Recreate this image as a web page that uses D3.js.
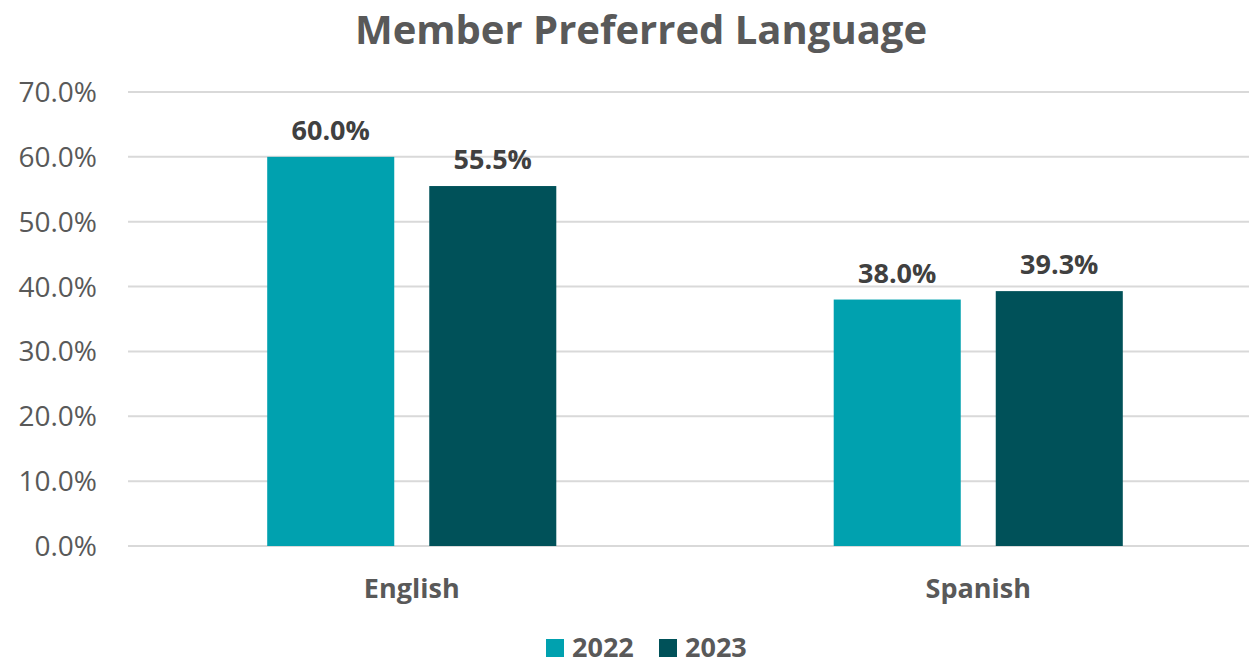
<!DOCTYPE html>
<html>
<head>
<meta charset="utf-8">
<script src="https://cdn.jsdelivr.net/npm/d3@7"></script>
<style>
  body { margin: 0; background: #fff; }
  svg { font-family: "Open Sans", sans-serif; }
</style>
</head>
<body>
<div id="chart"></div>
<script>
const width = 1249;
const height = 665;

// data
const categories = ["English", "Spanish"];
const years = ["2022", "2023"];
const values2022 = [60.0, 38.0];
const values2023 = [55.5, 39.3];
const yTicks = [0, 10, 20, 30, 40, 50, 60, 70];
const colors = ["#00A1AF", "#005159"];

const rows = categories.map((c, i) => ({ cat: c, vals: [values2022[i], values2023[i]] }));

const svg = d3.select("#chart")
  .append("svg")
  .attr("width", width)
  .attr("height", height);

const plotL = 128.5, plotR = 1261.5, plotT = 92, plotB = 546;

const x = d3.scaleBand().domain(categories).range([plotL, plotR]);
const x1 = d3.scaleBand().domain(years).range([0, x.bandwidth()]).paddingInner(0.216).paddingOuter(0.856);
const y = d3.scaleLinear().domain([0, 70]).range([plotB, plotT]);

// title
svg.append("text")
  .attr("x", 641).attr("y", 44)
  .attr("text-anchor", "middle")
  .attr("font-size", 40).attr("font-weight", "bold")
  .attr("fill", "#595959")
  .text("Member Preferred Language");

// grid
svg.append("g")
  .selectAll("line")
  .data(yTicks)
  .enter()
  .append("line")
  .attr("x1", 128).attr("x2", width)
  .attr("y1", d => y(d)).attr("y2", d => y(d))
  .attr("stroke", "#d9d9d9").attr("stroke-width", 2);

// y labels
svg.append("g")
  .selectAll("text")
  .data(yTicks)
  .enter()
  .append("text")
  .attr("x", 97).attr("y", d => y(d) + 10)
  .attr("text-anchor", "end")
  .attr("font-size", 28)
  .attr("fill", "#595959")
  .text(d => d.toFixed(1) + "%");

// bars
const groups = svg.append("g")
  .selectAll("g")
  .data(rows)
  .enter()
  .append("g")
  .attr("transform", d => `translate(${x(d.cat)},0)`);

groups.selectAll("rect")
  .data(d => d.vals.map((v, i) => ({ year: years[i], v, i })))
  .enter()
  .append("rect")
  .attr("x", d => x1(d.year))
  .attr("width", x1.bandwidth())
  .attr("y", d => y(d.v))
  .attr("height", d => y(0) - y(d.v))
  .attr("fill", d => colors[d.i]);

groups.selectAll("text.lbl")
  .data(d => d.vals.map((v, i) => ({ year: years[i], v, i })))
  .enter()
  .append("text")
  .attr("class", "lbl")
  .attr("x", d => x1(d.year) + x1.bandwidth() / 2)
  .attr("y", d => y(d.v) - 17)
  .attr("text-anchor", "middle")
  .attr("font-size", 27).attr("font-weight", "bold")
  .attr("fill", "#404040")
  .text(d => d.v.toFixed(1) + "%");

// category labels
svg.append("g")
  .selectAll("text")
  .data(categories)
  .enter()
  .append("text")
  .attr("x", d => x(d) + x.bandwidth() / 2)
  .attr("y", 598)
  .attr("text-anchor", "middle")
  .attr("font-size", 27).attr("font-weight", "bold")
  .attr("fill", "#595959")
  .text(d => d);

// legend
const legendX = [546, 659];
const legend = svg.append("g")
  .selectAll("g")
  .data(years)
  .enter()
  .append("g")
  .attr("transform", (d, i) => `translate(${legendX[i]},639)`);

legend.append("rect")
  .attr("width", 18).attr("height", 18)
  .attr("fill", (d, i) => colors[i]);

legend.append("text")
  .attr("x", 26).attr("y", 18)
  .attr("font-size", 27).attr("font-weight", "bold")
  .attr("fill", "#595959")
  .text(d => d);
</script>
</body>
</html>
